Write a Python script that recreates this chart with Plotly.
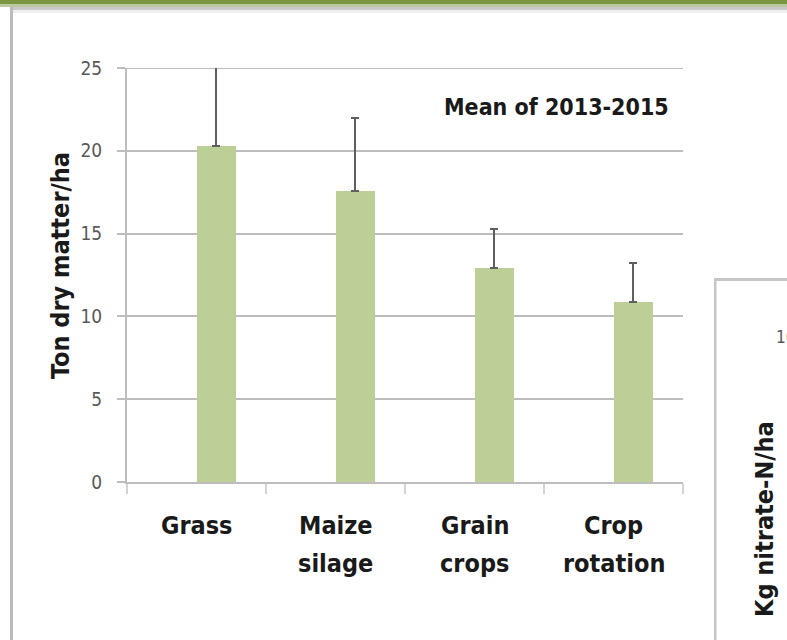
import plotly.graph_objects as go

# ---- data ----
categories = ["Grass", "Maize\nsilage", "Grain\ncrops", "Crop\nrotation"]
dry_matter = [20.3, 17.6, 12.9, 10.9]
error_plus = [5.2, 4.4, 2.4, 2.3]
y_ticks = [0, 5, 10, 15, 20, 25]
title_text = "Mean of 2013-2015"
y_title = "Ton dry matter/ha"
side_title = "Kg nitrate-N/ha"
side_tick = "100"

W, H = 787, 640
L, R, T, B = 127, 683, 68, 482  # plot area in px


def px(x):
    return (x - L) / (R - L)


def py(y):
    return (B - y) / (B - T)


FONT = "Liberation Sans Narrow, DejaVu Sans Condensed, Arial Narrow, Liberation Sans, sans-serif"
GRID = "#bdbdbd"

fig = go.Figure()
fig.add_trace(go.Bar(
    x=categories, y=dry_matter,
    offset=0, width=0.285,
    marker=dict(color="#bccf97", line=dict(width=0)),
    error_y=dict(type="data", array=error_plus, symmetric=False, arrayminus=[0]*4,
                 color="#5f5f5f", thickness=2, width=4),
    showlegend=False,
))

shapes = []
# top banner
shapes.append(dict(type="rect", xref="paper", yref="paper", x0=px(0), x1=px(W), y0=py(0), y1=py(4.5),
                   fillcolor="#7b963f", line=dict(width=0), layer="below"))
shapes.append(dict(type="rect", xref="paper", yref="paper", x0=px(0), x1=px(W), y0=py(4.5), y1=py(7),
                   fillcolor="#b9c8a0", line=dict(width=0), layer="below"))
shapes.append(dict(type="rect", xref="paper", yref="paper", x0=px(10), x1=px(W), y0=py(7), y1=py(10),
                   fillcolor="#cacaca", line=dict(width=0), layer="below"))
shapes.append(dict(type="rect", xref="paper", yref="paper", x0=px(12), x1=px(W), y0=py(10), y1=py(13),
                   fillcolor="#efefef", line=dict(width=0), layer="below"))
# main panel left border
shapes.append(dict(type="rect", xref="paper", yref="paper", x0=px(10), x1=px(13), y0=py(7), y1=py(H),
                   fillcolor="#bbbbbb", line=dict(width=0), layer="below"))
# second panel borders
shapes.append(dict(type="rect", xref="paper", yref="paper", x0=px(714), x1=px(W), y0=py(278), y1=py(281),
                   fillcolor="#c6c6c6", line=dict(width=0), layer="below"))
shapes.append(dict(type="rect", xref="paper", yref="paper", x0=px(714), x1=px(716.5), y0=py(278), y1=py(H),
                   fillcolor="#c6c6c6", line=dict(width=0), layer="below"))
# top gridline (at the range edge)
shapes.append(dict(type="line", xref="paper", yref="y", x0=px(119), x1=1, y0=y_ticks[-1], y1=y_ticks[-1],
                   line=dict(color=GRID, width=2), layer="below"))

annotations = []
# category labels (two lines each)
for cat in categories:
    for i, line in enumerate(cat.split("\n")):
        annotations.append(dict(x=cat, xref="x", y=py(525 + 38 * i), yref="paper",
                                text="<b>%s</b>" % line, showarrow=False, xanchor="center", yanchor="middle",
                                font=dict(family=FONT, size=25, color="#1a1a1a")))
annotations.append(dict(x=px(60), y=py(266), xref="paper", yref="paper", text="<b>%s</b>" % y_title,
                        textangle=-90, showarrow=False, xanchor="center", yanchor="middle",
                        font=dict(family=FONT, size=25, color="#1a1a1a")))
annotations.append(dict(x=px(556), y=py(107), xref="paper", yref="paper", text="<b>%s</b>" % title_text,
                        showarrow=False, xanchor="center", yanchor="middle",
                        font=dict(family=FONT, size=23, color="#1a1a1a")))
annotations.append(dict(x=px(764), y=py(519), xref="paper", yref="paper", text="<b>%s</b>" % side_title,
                        textangle=-90, showarrow=False, xanchor="center", yanchor="middle",
                        font=dict(family=FONT, size=25, color="#1a1a1a")))
annotations.append(dict(x=px(774), y=py(337), xref="paper", yref="paper", text=side_tick,
                        showarrow=False, xanchor="left", yanchor="middle",
                        font=dict(family=FONT, size=17, color="#595959")))

fig.update_layout(
    width=W, height=H,
    margin=dict(l=L, r=W - R, t=T, b=H - B, pad=0),
    paper_bgcolor="white", plot_bgcolor="white",
    bargap=0,
    shapes=shapes, annotations=annotations,
    xaxis=dict(type="category", range=[-0.5, 3.5], showticklabels=False,
               showline=True, linecolor=GRID, linewidth=2,
               ticks="outside", tickson="boundaries", ticklen=10, tickcolor="#d4d4d4", tickwidth=2,
               showgrid=False, zeroline=False, fixedrange=True),
    yaxis=dict(range=[0, 25], tickvals=y_ticks, ticks="outside", ticklen=8, tickcolor=GRID, tickwidth=2,
               ticklabelstandoff=11,
               tickfont=dict(family=FONT, size=19, color="#595959"),
               showgrid=True, gridcolor=GRID, gridwidth=2,
               showline=True, linecolor=GRID, linewidth=2, zeroline=False),
)

fig.write_html("out.html", config={"displayModeBar": False},
               post_script="document.body.style.margin='0';document.body.style.overflow='hidden';")
